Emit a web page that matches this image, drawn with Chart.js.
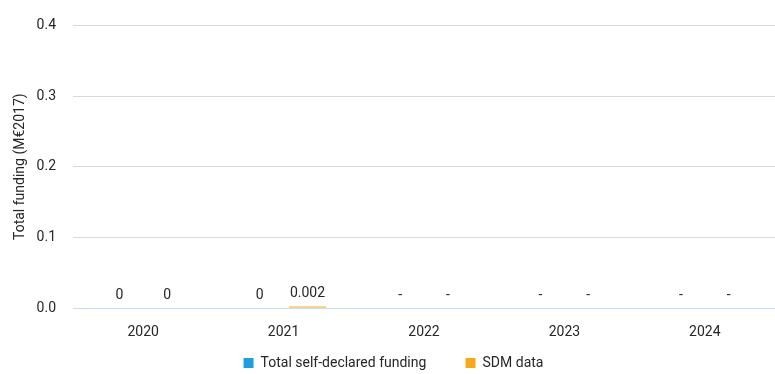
<!DOCTYPE html>
<html>
<head>
<meta charset="utf-8">
<script src="https://cdn.jsdelivr.net/npm/chart.js@4"></script>
<style>
  html, body { margin: 0; padding: 0; background: #fff; }
  #wrap { width: 775px; height: 374px; }
</style>
</head>
<body>
<div id="wrap"><canvas id="chart" width="775" height="374"></canvas></div>
<script>
const years = ['2020', '2021', '2022', '2023', '2024'];
const selfDeclared = [0, 0, null, null, null];
const sdmData = [0, 0.002, null, null, null];
const yTicks = [0, 0.1, 0.2, 0.3, 0.4];

const FONT = 'Roboto, "Liberation Sans", sans-serif';

// draws the value over each bar, "-" where there is no value
const valueLabels = {
    id: 'valueLabels',
    afterDatasetsDraw(chart) {
        const c = chart.ctx;
        const xScale = chart.scales.x;
        const yScale = chart.scales.y;
        c.save();
        c.font = '14px ' + FONT;
        c.fillStyle = '#262626';
        c.textAlign = 'center';
        c.textBaseline = 'bottom';
        chart.data.datasets.forEach((ds, di) => {
            const meta = chart.getDatasetMeta(di);
            const offset = meta.data[0].x - xScale.getPixelForValue(0);
            ds.data.forEach((v, i) => {
                const x = xScale.getPixelForValue(i) + offset;
                const y = yScale.getPixelForValue(v === null ? 0 : v);
                const txt = v === null ? '-' : String(v);
                c.fillText(txt, x, y - 6);
            });
        });
        c.restore();
    }
};

// keep the legend box short so it sits close to the bottom edge
const shortLegend = {
    id: 'shortLegend',
    beforeLayout(chart) {
        const lg = chart.legend;
        if (lg && !lg._shortFit) {
            const orig = lg.fit;
            lg.fit = function () {
                orig.call(this);
                this.height = 19;
            };
            lg._shortFit = true;
        }
    }
};

new Chart(document.getElementById('chart'), {
    type: 'bar',
    data: {
        labels: years,
        datasets: [{
            label: 'Total self-declared funding',
            data: selfDeclared,
            backgroundColor: '#1f9ddd',
            categoryPercentage: 0.68,
            barPercentage: 0.78
        },
        {
            label: 'SDM data',
            data: sdmData,
            backgroundColor: '#f7a91a',
            categoryPercentage: 0.68,
            barPercentage: 0.78
        }]
    },
    options: {
        responsive: false,
        animation: false,
        layout: { padding: { top: 14, right: 0, left: 12, bottom: 0 } },
        plugins: {
            tooltip: { enabled: false },
            legend: {
                position: 'bottom',
                labels: {
                    boxWidth: 10,
                    boxHeight: 10,
                    padding: 1,
                    color: '#262626',
                    font: { family: FONT, size: 14 },
                    // trailing spaces give the gap between the two entries
                    generateLabels(chart) {
                        const items = Chart.defaults.plugins.legend.labels.generateLabels(chart);
                        items.forEach((it, i) => {
                            if (i < items.length - 1) it.text = it.text + '           ';
                        });
                        return items;
                    }
                }
            }
        },
        scales: {
            x: {
                afterFit(axis) { axis.height = 47; },
                grid: { display: false, drawTicks: false },
                border: { display: false },
                ticks: { color: '#262626', padding: 16, font: { family: FONT, size: 14 } }
            },
            y: {
                min: 0,
                max: 0.4,
                afterBuildTicks(axis) {
                    axis.ticks = yTicks.map(v => ({ value: v }));
                },
                afterFit(axis) { axis.width = 61; },
                border: { display: false },
                grid: {
                    drawTicks: false,
                    color: (ctx) => ctx.tick && ctx.tick.value === 0 ? '#c6dcf7' : '#d9d9d9'
                },
                ticks: {
                    padding: 17,
                    color: '#262626',
                    font: { family: FONT, size: 14 },
                    callback: (v) => v.toFixed(1)
                },
                title: {
                    display: true,
                    text: 'Total funding (M€2017)',
                    color: '#262626',
                    padding: 0,
                    font: { family: FONT, size: 14 }
                }
            }
        }
    },
    plugins: [valueLabels, shortLegend]
});
</script>
</body>
</html>
